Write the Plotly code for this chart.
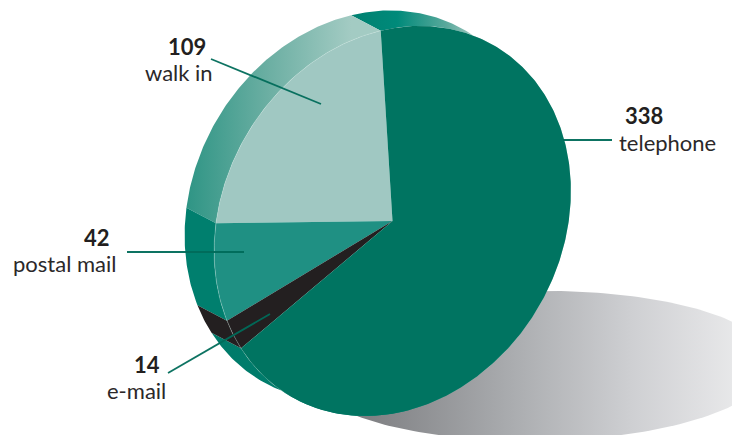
import numpy as np
import plotly.graph_objects as go

# Responses by contact channel, listed counter-clockwise from the top of the disc
categories = ["walk in", "postal mail", "e-mail", "telephone"]
values = [109, 42, 14, 338]

face_colors = ["#a0c8c2", "#1f9083", "#231f20", "#007461"]
label_anchor = {
    "walk in": (187, 46, 179, 72),
    "postal mail": (97, 237, 64, 263),
    "e-mail": (147, 364, 136, 390),
    "telephone": (644, 115, 667, 142),
}
leaders = {
    "walk in": ((211, 59), (321, 104)),
    "postal mail": ((127, 252), (244, 252)),
    "e-mail": ((168, 373), (270, 314)),
    "telephone": ((563, 140), (612, 140)),
}

# The disc is a circle under an affine tilt: page = centre + u*cos(t) + v*sin(t)
CENTRE = np.array([392.5, 221.0])
U = np.array([-11.8, -190.3])
V = np.array([-178.0, 42.8])
DEPTH = np.array([-29.5, -15.5])


def disc(theta, offset=(0.0, 0.0)):
    return (
        CENTRE[0] + offset[0] + U[0] * np.cos(theta) + V[0] * np.sin(theta),
        CENTRE[1] + offset[1] + U[1] * np.cos(theta) + V[1] * np.sin(theta),
    )


def arc(start, end):
    return np.linspace(start, end, max(int(abs(end - start) * 90), 8))


edges = 2 * np.pi * np.concatenate([[0], np.cumsum(values)]) / sum(values)
spans = list(zip(edges[:-1], edges[1:]))

fig = go.Figure()


def polygon(x, y, color=None, gradient=None):
    kwargs = dict(fillgradient=gradient) if gradient else dict(fillcolor=color)
    fig.add_trace(go.Scatter(x=x, y=y, mode="lines", fill="toself",
                             line=dict(width=0), hoverinfo="skip", **kwargs))


# Cast shadow on the ground, slightly tilted and running off the right edge
t = np.linspace(0, 2 * np.pi, 240)
sx = 538 + 235 * np.cos(t)
sy = 366 + 75 * np.sin(t) - 0.012 * 235 * np.cos(t)
polygon(sx, sy, gradient=dict(
    type="horizontal", start=340, stop=760,
    colorscale=[[0, "#77787b"], [0.4, "#a9abae"], [0.7, "#cfd0d3"], [1, "#eeeeef"]]))

# Side walls of the extruded slices, back to front
wall_styles = {
    "telephone": dict(gradient=dict(
        type="horizontal", start=200, stop=490,
        colorscale=[[0, "#007a69"], [0.5, "#007f6f"], [0.68, "#008a7a"],
                    [0.85, "#5aa99c"], [0.95, "#a0c9c1"], [1, "#b5d5ce"]])),
    "walk in": dict(gradient=dict(
        type="horizontal", start=187, stop=351,
        colorscale=[[0, "#2f9585"], [0.5, "#6cafa3"], [1, "#a3cbc3"]])),
    "postal mail": dict(color="#007f6e"),
    "e-mail": dict(color="#231f20"),
}
for name in ["telephone", "walk in", "postal mail", "e-mail"]:
    a, b = spans[categories.index(name)]
    th = arc(a, b)
    fx, fy = disc(th)
    bx, by = disc(th, DEPTH)
    polygon(np.concatenate([bx, fx[::-1]]), np.concatenate([by, fy[::-1]]), **wall_styles[name])

# Top faces of the slices
for (a, b), color in zip(spans, face_colors):
    fx, fy = disc(arc(a, b))
    polygon(np.concatenate([[CENTRE[0]], fx, [CENTRE[0]]]),
            np.concatenate([[CENTRE[1]], fy, [CENTRE[1]]]), color=color)

# Hairline highlight along the front edge where the wall is visible
hi_x, hi_y = disc(arc(edges[0], edges[2] + 0.18))
fig.add_trace(go.Scatter(x=hi_x, y=hi_y, mode="lines", hoverinfo="skip",
                         line=dict(color="rgba(205,230,224,0.5)", width=0.6)))
hi_x, hi_y = disc(arc(edges[3], edges[3] + 0.40))
fig.add_trace(go.Scatter(x=hi_x, y=hi_y, mode="lines", hoverinfo="skip",
                         line=dict(color="rgba(150,205,190,0.4)", width=0.5)))

# Leader lines from labels to slices
for name, (p, q) in leaders.items():
    fig.add_trace(go.Scatter(x=[p[0], q[0]], y=[p[1], q[1]], mode="lines", hoverinfo="skip",
                             line=dict(color="rgba(0,108,90,0.95)", width=1.8)))

# Value and category labels
annotations = []
for name, value in zip(categories, values):
    vx, vy, nx, ny = label_anchor[name]
    annotations.append(dict(x=vx, y=vy, text=f"<b>{value}</b>", showarrow=False,
                            font=dict(family="Lato", size=22, color="#231f20")))
    annotations.append(dict(x=nx, y=ny, text=name, showarrow=False,
                            font=dict(family="Lato", size=22, color="#2b2829")))

fig.update_layout(
    width=732, height=435, margin=dict(l=0, r=0, t=0, b=0),
    paper_bgcolor="white", plot_bgcolor="white", showlegend=False,
    xaxis=dict(range=[0, 732], visible=False, fixedrange=True),
    yaxis=dict(range=[435, 0], visible=False, fixedrange=True),
    annotations=annotations,
)
fig.write_html("out.html")
